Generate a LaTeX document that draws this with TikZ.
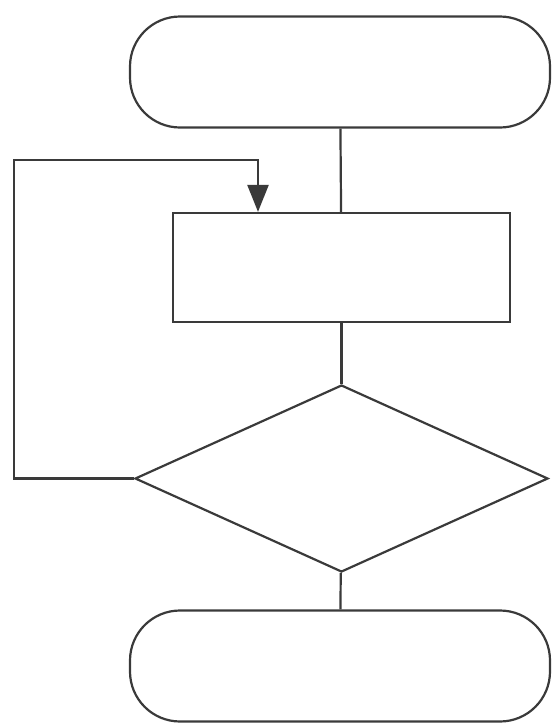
\documentclass[tikz,border=0pt]{standalone}
\usepackage{xcolor}
\usepackage{tikz}
\usetikzlibrary{arrows.meta,positioning,shapes.geometric}
\definecolor{ChartInk}{HTML}{3A3A3A}
\tikzset{
  fcterm/.style={
    draw=ChartInk,
    line width=2.2pt,
    rounded corners=50pt,
    minimum width=420pt,
    minimum height=111pt,
    inner sep=0pt
  },
  fcproc/.style={
    draw=ChartInk,
    line width=2.2pt,
    minimum width=337pt,
    minimum height=109pt,
    inner sep=0pt
  },
  fctest/.style={
    draw=ChartInk,
    line width=2.2pt,
    diamond,
    minimum width=413pt,
    minimum height=187pt,
    inner sep=0pt
  },
  fcline/.style={line width=2.2pt, draw=ChartInk},
  fcloop/.style={-{Triangle[length=27pt,width=21pt]}, line width=2.2pt, draw=ChartInk}
}
\begin{document}
\begin{tikzpicture}[x=1pt,y=-1pt]
  \useasboundingbox (0,0) rectangle (556,724);
  \node[fcterm] (start) at (340,72) {};
  \node[fcproc] (proc) at (341.5,267.5) {};
  \node[fctest] (test) at (341.5,478.5) {};
  \node[fcterm] (stop) at (340,666) {};
  \coordinate (bend) at (14,160);
  \coordinate (entry) at ([xshift=-83.5pt]proc.north);
  \draw[fcline] (start) -- (proc);
  \draw[fcline] (proc) -- (test);
  \draw[fcline] (test) -- (stop);
  \draw[fcloop] (test.west) -| (bend) -| (entry);
\end{tikzpicture}
\end{document}
